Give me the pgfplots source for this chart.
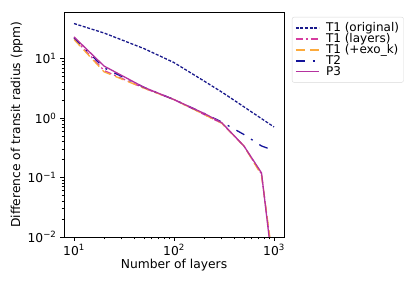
\documentclass[border=0pt]{standalone}
\usepackage{fontspec}
\setmainfont{DejaVu Sans}
\usepackage{pgfplots}
\pgfplotsset{compat=1.18}
\definecolor{lineOrig}{HTML}{1A1A8C}
\definecolor{lineLay}{HTML}{D63CA0}
\definecolor{lineExo}{HTML}{FCAA3C}
\definecolor{lineTwo}{HTML}{14149A}
\definecolor{lineP}{HTML}{B5329F}
\begin{document}
\begin{tikzpicture}
\useasboundingbox (-64pt,-54pt) rectangle (351pt,237pt);
\begin{axis}[
  at={(0,0)}, anchor=south west,
  scale only axis, width=220pt, height=225pt,
  xmode=log, ymode=log,
  xmin=7.94, xmax=1259, ymin=0.01, ymax=61,
  xtick={10,100,1000},
  xticklabels={10\textsuperscript{1},10\textsuperscript{2},10\textsuperscript{3}},
  ytick={0.01,0.1,1,10},
  yticklabels={10\textsuperscript{−2},10\textsuperscript{−1},10\textsuperscript{0},10\textsuperscript{1}},
  tick align=outside, tick pos=left,
  major tick length=4pt, minor tick length=2.5pt,
  every tick/.style={black, line width=0.7pt},
  axis line style={line width=0.9pt},
  tick label style={font=\fontsize{12.3}{14}\selectfont},
  label style={font=\fontsize{12.3}{14}\selectfont},
  xlabel={Number of layers},
  ylabel={Difference of transit radius (ppm)},
  xlabel style={yshift=3pt},
  ylabel style={yshift=-2pt},
  legend style={at={(1.036,0.978)}, anchor=north west, draw=black!15, rounded corners=2pt,
    font=\fontsize{12}{13.5}\selectfont, row sep=-2.6pt, inner xsep=3pt, inner ysep=4pt,
    nodes={inner sep=1.5pt},
    /tikz/every odd column/.append style={column sep=5pt}},
  legend cell align=left,
  legend image code/.code={\draw[line width=1.4pt,#1] (0pt,0pt) -- (23pt,0pt);},
]
\addplot[lineOrig, line width=1.3pt, dash pattern=on 3pt off 1.6pt] coordinates {
(10,39) (20,27) (50,14.8) (100,8.6) (200,4.2) (300,2.75) (500,1.55) (750,0.98) (1000,0.71)};
\addlegendentry{T1 (original)}
\addplot[lineLay, line width=1.3pt, dash pattern=on 7pt off 3pt on 2pt off 3pt] coordinates {
(10,22) (20,6.3) (50,3.2) (100,2.05) (200,1.15) (300,0.82) (500,0.34) (750,0.115) (1000,0.0025)};
\addlegendentry{T1 (layers)}
\addplot[lineExo, line width=1.3pt, dash pattern=on 9pt off 5pt] coordinates {
(10,21) (20,6.0) (50,3.2) (100,2.05) (200,1.15) (300,0.82) (500,0.34) (750,0.11) (1000,0.003)};
\addlegendentry{T1 (+exo\_k)}
\addplot[lineTwo, line width=1.3pt, dash pattern=on 9pt off 8pt on 2pt off 8pt] coordinates {
(10,22.5) (20,7) (50,3.3) (100,2.05) (200,1.2) (300,0.86) (500,0.53) (750,0.34) (1000,0.285)};
\addlegendentry{T2}
\addplot[lineP, line width=1.3pt, solid] coordinates {
(10,23.2) (20,7.5) (50,3.3) (100,2.05) (200,1.2) (300,0.84) (500,0.34) (750,0.12) (1000,0.002)};
\addlegendentry{P3}
\end{axis}
\end{tikzpicture}
\end{document}
